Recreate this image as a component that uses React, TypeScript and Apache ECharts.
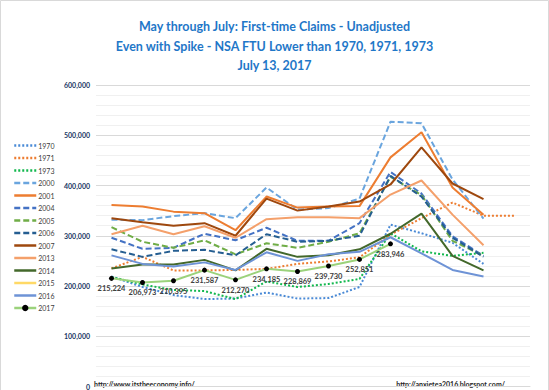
import React, { useEffect, useRef } from "react";
import * as echarts from "echarts";

const categories = ["May 6", "May 13", "May 20", "May 27", "Jun 3", "Jun 10", "Jun 17", "Jun 24", "Jul 1", "Jul 8", "Jul 15", "Jul 22", "Jul 29", "Aug 5"];

const s1970 = [219000, 198000, 182000, 174000, 175000, 187000, 175000, 176000, 198000, 322000, 305000, 286000, 244000];
const s1971 = [235000, 258000, 231000, 231000, 232000, 234000, 244000, 249000, 257000, 302000, 335000, 366000, 340000, 340000];
const s1973 = [218000, 203000, 192000, 190000, 174000, 209000, 198000, 204000, 214000, 305000, 269000, 260000, 266000];
const s2000 = [332000, 331000, 339000, 345000, 335000, 396000, 352000, 355000, 374000, 527000, 524000, 412000, 334000];
const s2001 = [361000, 358000, 348000, 345000, 311000, 378000, 356000, 358000, 359000, 456000, 506000, 396000, 342000];
const s2004 = [296000, 274000, 276000, 304000, 291000, 316000, 290000, 290000, 325000, 427000, 384000, 299000, 260000];
const s2005 = [317000, 288000, 276000, 291000, 263000, 285000, 276000, 288000, 305000, 417000, 381000, 290000, 260000];
const s2006 = [273000, 258000, 270000, 272000, 261000, 303000, 288000, 290000, 300000, 419000, 378000, 296000, 258000];
const s2007 = [335000, 327000, 320000, 325000, 300000, 374000, 350000, 358000, 368000, 402000, 476000, 404000, 373000];
const s2013 = [303000, 320000, 303000, 319000, 296000, 333000, 337000, 337000, 335000, 382000, 410000, 342000, 281000];
const s2014 = [235000, 243000, 243000, 252000, 231000, 274000, 258000, 261000, 273000, 304000, 344000, 260000, 231000];
const s2015: (number | null)[] = [];
const s2016 = [261000, 244000, 239000, 247000, 232000, 267000, 250000, 263000, 268000, 297000, 265000, 232000, 219000];
const s2017 = [215224, 206973, 210395, 231587, 212270, 234185, 228869, 239730, 252851, 283946];

const titleLines = [
  "May through July: First-time Claims - Unadjusted",
  "Even with Spike - NSA FTU Lower than 1970, 1971, 1973",
  "July 13, 2017",
];
const yTicks = { min: 0, max: 600000, interval: 100000 };
const sourceLeft = "http://www.itstheeconomy.info/";
const sourceRight = "http://anxietea2016.blogspot.com/";

const FONT = "Lato, 'Liberation Sans', sans-serif";
const DOT: number[] = [2, 2];
const DASH: number[] = [6, 3];

type Def = { name: string; data: (number | null)[]; color: string; type: any };

const defs: Def[] = [
  { name: "1970", data: s1970, color: "#4A8AD6", type: DOT },
  { name: "1971", data: s1971, color: "#ED7D31", type: DOT },
  { name: "1973", data: s1973, color: "#12B84E", type: DOT },
  { name: "2000", data: s2000, color: "#6AA5DE", type: DASH },
  { name: "2001", data: s2001, color: "#ED7D31", type: "solid" },
  { name: "2004", data: s2004, color: "#4472C4", type: DASH },
  { name: "2005", data: s2005, color: "#70AD47", type: DASH },
  { name: "2006", data: s2006, color: "#255E91", type: DASH },
  { name: "2007", data: s2007, color: "#9E480E", type: "solid" },
  { name: "2013", data: s2013, color: "#F4A06B", type: "solid" },
  { name: "2014", data: s2014, color: "#43682B", type: "solid" },
  { name: "2015", data: s2015, color: "#FFD966", type: "solid" },
  { name: "2016", data: s2016, color: "#6E93D6", type: "solid" },
];

export default function App() {
  const ref = useRef<HTMLDivElement>(null);
  useEffect(() => {
    if (!ref.current) return;
    const chart = echarts.init(ref.current, null, { renderer: "svg" });
    const series: any[] = defs.map((d) => ({
      name: d.name,
      type: "line",
      data: d.data,
      symbol: "none",
      showSymbol: false,
      color: d.color,
      lineStyle: { color: d.color, width: 2, type: d.type },
      itemStyle: { color: d.color },
      z: 2,
    }));
    series.push({
      name: "2017",
      type: "line",
      data: s2017,
      symbol: "circle",
      symbolSize: 5,
      color: "#9BD27B",
      lineStyle: { color: "#9BD27B", width: 2 },
      itemStyle: { color: "#000000", borderWidth: 0 },
      label: {
        show: true,
        position: "bottom",
        distance: 4,
        fontFamily: FONT,
        fontSize: 7.5,
        fontWeight: "bold",
        color: "#404040",
        formatter: (p: any) => Number(p.value).toLocaleString("en-US"),
      },
      z: 5,
    });

    const legendData: any[] = defs.map((d) => ({
      name: d.name,
      itemStyle: { opacity: 0 },
      lineStyle: { width: 2.5 },
    }));
    legendData.push({ name: "2017", lineStyle: { width: 2.5 } });

    chart.setOption({
      animation: false,
      backgroundColor: "#ffffff",
      title: {
        text: titleLines.join("\n"),
        left: "center",
        top: 12,
        textStyle: {
          fontFamily: FONT,
          fontSize: 12.5,
          fontWeight: "bold",
          color: "#1F77C8",
          lineHeight: 19.5,
          align: "center",
        },
      },
      legend: {
        orient: "vertical",
        left: 8,
        top: 137,
        itemWidth: 22,
        itemHeight: 8,
        itemGap: 5.5,
        textStyle: { fontFamily: FONT, fontSize: 7, color: "#404040", padding: [0, 0, 0, -3] },
        data: legendData,
      },
      grid: { left: 96, right: 19, top: 85, height: 306, containLabel: false },
      xAxis: {
        type: "category",
        data: categories,
        boundaryGap: true,
        axisLine: { show: true, lineStyle: { color: "#D9D9D9" } },
        axisTick: { show: false },
        axisLabel: { show: false },
      },
      yAxis: {
        type: "value",
        min: yTicks.min,
        max: yTicks.max,
        interval: yTicks.interval,
        axisLine: { show: false },
        axisTick: { show: false },
        axisLabel: {
          margin: 6,
          fontFamily: FONT,
          fontSize: 7,
          fontWeight: "bold",
          color: "#203864",
          formatter: (v: number) => v.toLocaleString("en-US"),
        },
        splitLine: { show: true, lineStyle: { color: "#D9D9D9", width: 1 } },
        minorTick: { show: false, splitNumber: 5 },
        minorSplitLine: { show: true, lineStyle: { color: "#F0F0F0", width: 1 } },
      },
      graphic: [
        {
          type: "rect",
          shape: { x: 0.5, y: 0.5, width: 548, height: 400 },
          style: { fill: "none", stroke: "#D9D9D9", lineWidth: 1 },
          silent: true,
        },
        {
          type: "text",
          left: 94,
          top: 380,
          style: { text: sourceLeft, fontFamily: FONT, fontSize: 7, fontWeight: "bold", fill: "#262626" },
        },
        {
          type: "text",
          right: 44,
          top: 380,
          style: { text: sourceRight, fontFamily: FONT, fontSize: 7, fontWeight: "bold", fill: "#262626" },
        },
      ],
      series,
    });
    return () => chart.dispose();
  }, []);
  return (
    <div
      ref={ref}
      style={{ position: "fixed", left: 0, top: 0, width: 549, height: 390, background: "#fff" }}
    />
  );
}
